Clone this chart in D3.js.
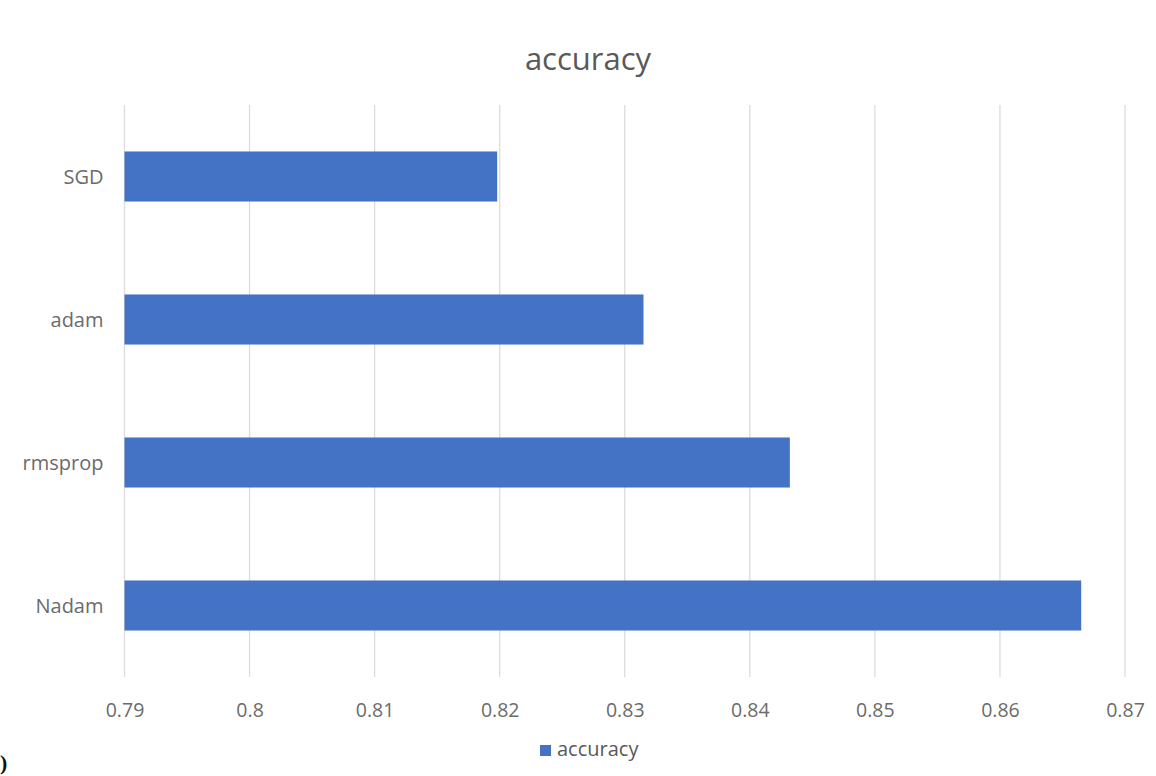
<!DOCTYPE html>
<html>
<head>
<meta charset="utf-8">
<script src="https://cdn.jsdelivr.net/npm/d3@7"></script>
<style>
  html, body { margin: 0; padding: 0; background: #fff; }
  svg { display: block; font-family: "Open Sans", "Noto Sans", sans-serif; }
</style>
</head>
<body>
<svg id="chart" width="1156" height="776"></svg>
<script>
// Optimizer accuracy comparison
const categories = ["SGD", "adam", "rmsprop", "Nadam"];
const accuracy = [0.8198, 0.8315, 0.8432, 0.8665];
const tickValues = [0.79, 0.8, 0.81, 0.82, 0.83, 0.84, 0.85, 0.86, 0.87];
const tickLabels = ["0.79", "0.8", "0.81", "0.82", "0.83", "0.84", "0.85", "0.86", "0.87"];
const seriesName = "accuracy";

const svg = d3.select("#chart");
const margin = { left: 124.5, right: 31, top: 105, bottom: 99 };
const W = 1156, H = 776;
const fontStack = "\"Open Sans\", \"Noto Sans\", sans-serif";

const x = d3.scaleLinear()
  .domain([0.79, 0.87])
  .range([margin.left, W - margin.right]);

const y = d3.scaleBand()
  .domain(categories)
  .range([margin.top, H - margin.bottom])
  .paddingInner(0.65)
  .paddingOuter(0.325);

// vertical gridlines
svg.append("g")
  .selectAll("line")
  .data(tickValues)
  .join("line")
  .attr("x1", d => x(d)).attr("x2", d => x(d))
  .attr("y1", margin.top).attr("y2", H - margin.bottom)
  .attr("stroke", "#dcdcdc")
  .attr("stroke-width", 1.3);

// bars
svg.append("g")
  .selectAll("rect")
  .data(categories)
  .join("rect")
  .attr("x", x(0.79))
  .attr("y", d => y(d))
  .attr("width", (d, i) => x(accuracy[i]) - x(0.79))
  .attr("height", y.bandwidth())
  .attr("fill", "#4472c4");

// x axis labels
const xAxis = d3.axisBottom(x)
  .tickValues(tickValues)
  .tickFormat((d, i) => tickLabels[i])
  .tickSize(0)
  .tickPadding(0);
const gx = svg.append("g")
  .attr("transform", `translate(0, ${H - margin.bottom + 40})`)
  .call(xAxis);
gx.select(".domain").remove();
gx.selectAll("text")
  .attr("fill", "#6b6b6b")
  .attr("font-size", 19.5)
  .attr("dy", 0)
  .attr("font-family", fontStack);

// y axis labels
const yAxis = d3.axisLeft(y).tickSize(0).tickPadding(0);
const gy = svg.append("g")
  .attr("transform", `translate(${margin.left - 21}, 0)`)
  .call(yAxis);
gy.select(".domain").remove();
gy.selectAll("text")
  .attr("fill", "#6b6b6b")
  .attr("font-size", 20)
  .attr("dy", "0.35em")
  .attr("font-family", fontStack);

// title
svg.append("text")
  .attr("x", 588)
  .attr("y", 70)
  .attr("text-anchor", "middle")
  .attr("font-size", 31)
  .attr("fill", "#595959")
  .text(seriesName);

// legend
const legend = svg.append("g").attr("transform", "translate(540, 745)");
legend.append("rect")
  .attr("width", 11).attr("height", 11)
  .attr("fill", "#4472c4");
legend.append("text")
  .attr("x", 17).attr("y", 11)
  .attr("font-size", 20)
  .attr("fill", "#595959")
  .text(seriesName);

// stray glyph at the lower-left edge
svg.append("text")
  .attr("x", 0).attr("y", 770)
  .attr("font-family", "\"Liberation Serif\", serif")
  .attr("font-size", 22)
  .attr("font-weight", "bold")
  .attr("fill", "#111")
  .text(")");
</script>
</body>
</html>
